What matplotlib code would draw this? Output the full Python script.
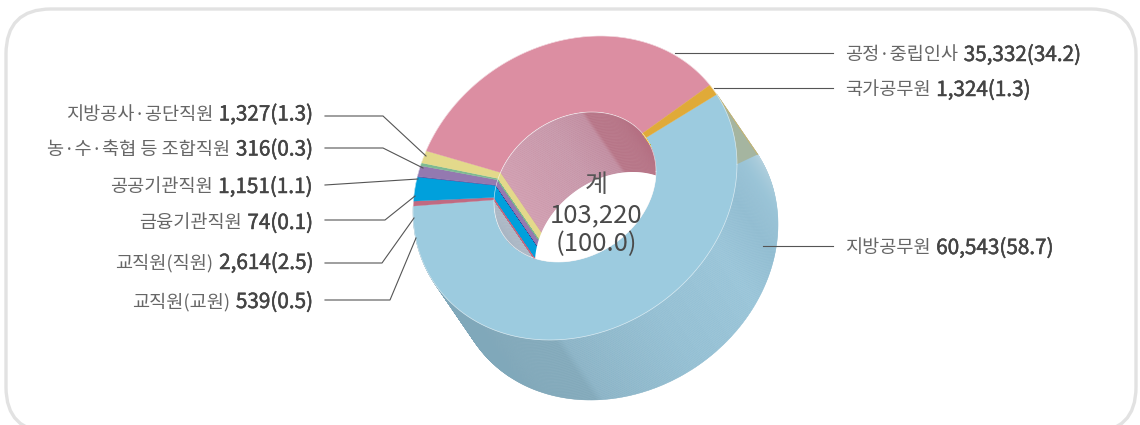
import numpy as np
import matplotlib
matplotlib.use("Agg")
import matplotlib.pyplot as plt
import matplotlib.patheffects as pe
from matplotlib.collections import PolyCollection
from matplotlib.colors import to_rgb
from matplotlib.patches import FancyBboxPatch, Polygon

plt.rcParams["font.family"] = ["Noto Sans CJK KR", "DejaVu Sans"]

# clockwise from the blue sector
sectors = ["지방공무원", "교직원(교원)", "교직원(직원)", "금융기관직원", "공공기관직원",
           "농·수·축협 등 조합직원", "지방공사·공단직원", "공정·중립인사", "국가공무원"]
counts = [60543, 539, 2614, 74, 1151, 316, 1327, 35332, 1324]
shares = [58.7, 0.5, 2.5, 0.1, 1.1, 0.3, 1.3, 34.2, 1.3]
colors = ["#9ccbdf", "#c06a82", "#00a0dc", "#4a3f97", "#9479b0",
          "#7dba92", "#e3d98b", "#dc8ea2", "#e0aa38"]
total = 103220
total_share = 100.0

# label positions: sector index, text y, leader path
left_labels = [
    (6, 114.5, [(325, 116), (383, 116), (426, 156)]),
    (5, 149.5, [(325, 148), (383, 148), (423, 168)]),
    (4, 187, [(325, 185), (418, 179)]),
    (3, 223, [(325, 220), (385, 220), (415, 196)]),
    (2, 263, [(325, 263), (382, 263), (414, 218)]),
    (1, 302, [(325, 300), (390, 300), (416, 238)]),
]
right_labels = [
    (7, 55, [(675, 53), (833, 53)]),
    (8, 90, [(714, 88), (833, 88)]),
    (0, 248, [(763, 246), (833, 246)]),
]

START = 29  # angle of the blue / orange boundary
SHIFT = np.array([41, 60])


def outer(t):
    t = np.radians(t)
    return np.column_stack([575 + 162 * np.cos(t), 188 - 152 * np.sin(t + np.radians(9))])


def inner(t):
    t = np.radians(t)
    return np.column_stack([575 + 81 * np.cos(t), 187 - 75 * np.sin(t + np.radians(12))])


def quads(rim, shift=SHIFT):
    return [[rim[i], rim[i + 1], rim[i + 1] + shift, rim[i] + shift] for i in range(len(rim) - 1)]


def ramp(t, stops):
    # stops: (angle, colour), angles increasing
    a = [s[0] for s in stops]
    c = np.array([to_rgb(s[1]) for s in stops])
    return np.column_stack([np.interp(t, a, c[:, k]) for k in range(3)])


fig = plt.figure(figsize=(11.4, 4.25), dpi=100)
ax = fig.add_axes([0, 0, 1, 1])
ax.set_xlim(0, 1140)
ax.set_ylim(425, 0)
ax.axis("off")

ax.add_patch(FancyBboxPatch((6, 9), 1130, 423, boxstyle="round,pad=0,rounding_size=45",
                            fc="white", ec="#e2e2e2", lw=2.4, zorder=0))

edges = START - np.cumsum([0] + counts) / sum(counts) * 360

# outer side wall of the blue sector
t_wall = np.linspace(edges[1], edges[0], 500)
wall_col = ramp((t_wall[:-1] + t_wall[1:]) / 2, [
    (-181, "#80a8ba"), (-97, "#80a8ba"), (-94, "#8ab3c6"), (-60, "#93bfd3"),
    (-30, "#98c4d8"), (-12, "#8fbcd1"), (5, "#9ac4d7"), (29, "#b8d3df")])
ax.add_collection(PolyCollection(quads(outer(t_wall)), facecolors=wall_col, edgecolors=wall_col,
                                 linewidths=0.3, zorder=1))
ax.add_patch(Polygon([outer([START])[0], outer([START])[0] + SHIFT, outer([0])[0]],
                     fc="#a5b5a0", ec="none", zorder=1.5))
ax.plot(*np.array([outer([START])[0], outer([START])[0] + SHIFT]).T, color="#c9b36a", lw=0.7, zorder=1.6)

# top face
for i, c in enumerate(colors):
    t = np.linspace(edges[i], edges[i + 1], 200)
    ax.add_patch(Polygon(np.vstack([outer(t), inner(t)[::-1]]), fc=c, ec=c, lw=0.2, zorder=2))
t_all = np.linspace(0, 360, 721)
ax.plot(*outer(t_all).T, color="white", lw=0.5, alpha=0.6, zorder=2.5)

# hole: inner wall seen through it, white floor on top
hole = Polygon(inner(t_all), fc="white", ec="none", zorder=3)
ax.add_patch(hole)
wall_stops = {
    0: [(-182, "#a9b6c4"), (-140, "#a9b6c4"), (29, "#a9b6c4")],
    # same angles as edges, which run below -180 here
    7: [(-326, "#b57083"), (-277, "#b57083"), (-274, "#c08a9e"), (-250, "#c695a8"), (-203, "#d09bae")],
}
for i, c in enumerate(colors):
    t = np.linspace(edges[i + 1], edges[i], 160)
    mid = (t[:-1] + t[1:]) / 2
    col = ramp(mid, wall_stops[i]) if i in wall_stops else np.tile(to_rgb(c), (len(mid), 1))
    pc = PolyCollection(quads(inner(t)), facecolors=col, edgecolors=col, linewidths=0.25, zorder=3.1)
    ax.add_collection(pc)
    pc.set_clip_path(hole)
floor = Polygon(inner(t_all) + SHIFT, fc="white", ec="none", zorder=3.2)
ax.add_patch(floor)
floor.set_clip_path(hole)
ax.plot(*inner(t_all).T, color="white", lw=0.5, alpha=0.7, zorder=3.3)

# labels
NAME = dict(fontsize=13.4, color="#666666", weight="light", zorder=5, va="center")
NUM = dict(fontsize=14.9, color="#444444", zorder=5, va="center",
           path_effects=[pe.withStroke(linewidth=0.35, foreground="#444444")])
for idx, y, path in left_labels + right_labels:
    ax.plot(*np.array(path).T, color="#555555", lw=0.8, zorder=4, solid_joinstyle="miter")
    num = f"{counts[idx]:,}({shares[idx]})"
    if path[0][0] < 500:
        tnum = ax.text(313, y, num, ha="right", **NUM)
        ax.annotate(sectors[idx], xy=(0, 0.5), xycoords=tnum, xytext=(-4, 0), textcoords="offset points",
                    ha="right", **NAME)
    else:
        tname = ax.text(845, y, sectors[idx], ha="left", **NAME)
        ax.annotate(num, xy=(1, 0.5), xycoords=tname, xytext=(4, 0), textcoords="offset points",
                    ha="left", **NUM)

ax.text(596, 185, "계", ha="center", va="center", fontsize=18, color="#555555", weight="light", zorder=5)
ax.text(596, 215, f"{total:,}", ha="center", va="center", fontsize=18.5, color="#4a4a4a", zorder=5)
ax.text(596, 244, f"({total_share})", ha="center", va="center", fontsize=18.5, color="#4a4a4a", zorder=5)

fig.savefig("out.png", dpi=100)
